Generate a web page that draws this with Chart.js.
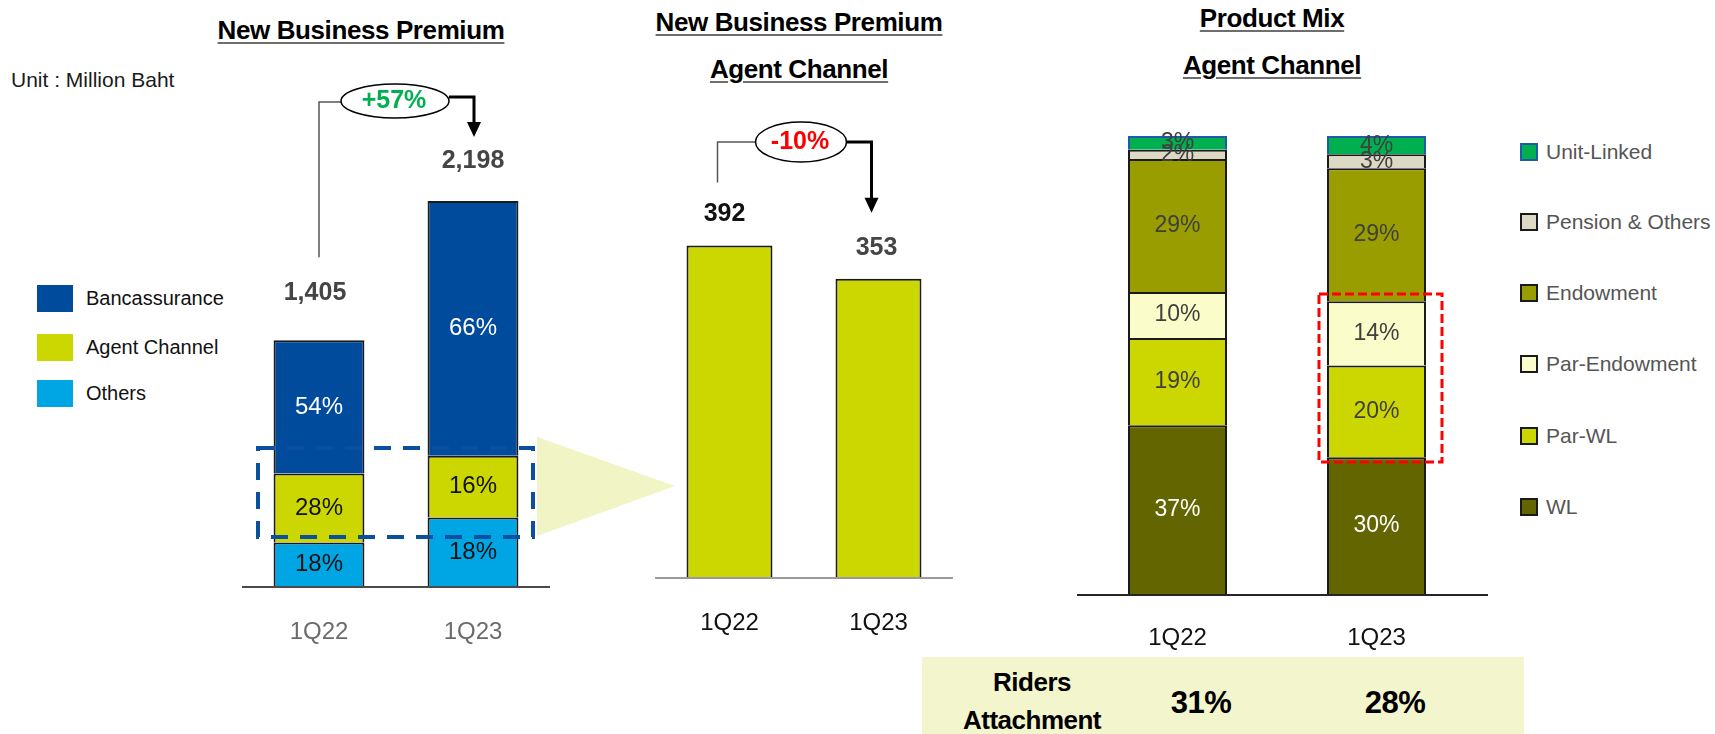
<!DOCTYPE html>
<html lang="en">
<head>
<meta charset="utf-8">
<title>New Business Premium and Product Mix</title>
<script src="https://cdn.jsdelivr.net/npm/chart.js@4.4.1/dist/chart.umd.min.js"></script>
<style>
  html, body { margin: 0; padding: 0; background: #ffffff; }
  body { position: relative; width: 1715px; height: 734px; overflow: hidden;
         font-family: "Liberation Sans", Arial, Helvetica, sans-serif; }
  .ct { position: absolute; transform: translate(-50%, -50%); white-space: nowrap; line-height: 1; }
  .title { font-weight: bold; font-size: 26px; letter-spacing: -0.4px; color: #000;
           text-decoration: underline; text-decoration-color: #6e6e6e;
           text-decoration-thickness: 2px; text-underline-offset: 3px; }
  .unit { position: absolute; left: 11px; top: 69px; font-size: 21px; line-height: 22px;
          color: #1a1a1a; white-space: nowrap; }
  .chart { position: absolute; }
  .chart canvas { display: block; }
  .legL { position: absolute; left: 37px; display: flex; align-items: center; white-space: nowrap;
          font-size: 20px; line-height: 27px; color: #111; }
  .legL .sw { width: 36px; height: 27px; margin-right: 13px; }
  .legR { position: absolute; left: 1520px; display: flex; align-items: center; white-space: nowrap;
          font-size: 21px; line-height: 18px; color: #555; }
  .legR .sw { width: 18px; height: 18px; box-sizing: border-box; border: 2px solid #1a1a1a; margin-right: 8px; }
  .riders { position: absolute; left: 922px; top: 657px; width: 602px; height: 77px; background: #f3f6cd; }
  .rtxt { font-weight: bold; color: #000; letter-spacing: -0.5px; }
  svg.overlay { position: absolute; left: 0; top: 0; pointer-events: none; }
</style>
</head>
<body>
<div class="ct title" style="left:361px; top:30px;">New Business Premium</div>
<div class="ct title" style="left:799px; top:22px;">New Business Premium</div>
<div class="ct title" style="left:799px; top:69px;">Agent Channel</div>
<div class="ct title" style="left:1272px; top:18px;">Product Mix</div>
<div class="ct title" style="left:1272px; top:65px;">Agent Channel</div>
<div class="unit">Unit : Million Baht</div>

<div id="legendLeft"></div>
<div id="legendRight"></div>

<div class="chart" id="wrapNbp"><canvas id="nbpChart"></canvas></div>
<div class="chart" id="wrapAgent"><canvas id="agentChart"></canvas></div>
<div class="chart" id="wrapMix"><canvas id="mixChart"></canvas></div>

<div class="riders" id="riders"></div>

<svg class="overlay" width="1715" height="734" viewBox="0 0 1715 734">
  <polygon points="537,437 675,486 537,536" fill="#f1f4c5"/>
  <rect x="258" y="448" width="275" height="89" fill="none" stroke="#0b4f9f" stroke-width="4" stroke-dasharray="17 12"/>
  <rect x="1319" y="294" width="123" height="168" fill="none" stroke="#ff0000" stroke-width="3" stroke-dasharray="9 4"/>
</svg>

<script>
// ---- data ----
const quarters = ['1Q22', '1Q23'];

// New business premium, all channels (million baht)
const nbpTotal = [1405, 2198];
const nbpGrowth = '+57%';

// Channel split of new business premium (%)
const channelNames = ['Bancassurance', 'Agent Channel', 'Others'];
const bancShare = [54, 66];
const agentShare = [28, 16];
const othersShare = [18, 18];

// Agent channel new business premium (million baht)
const agentPremium = [392, 353];
const agentGrowth = '-10%';

// Agent channel product mix (%)
const mixNames = ['Unit-Linked', 'Pension & Others', 'Endowment', 'Par-Endowment', 'Par-WL', 'WL'];
const mixUnitLinked = [3, 4];
const mixPension = [2, 3];
const mixEndowment = [29, 29];
const mixParEndowment = [10, 14];
const mixParWL = [19, 20];
const mixWL = [37, 30];

// Riders attachment (%)
const ridersLabel = ['Riders', 'Attachment'];
const ridersAttachment = [31, 28];

// ---- styles ----
const FONT = '"Liberation Sans", Arial, Helvetica, sans-serif';
const channelStyle = {
  'Bancassurance': { fill: '#004b9b', text: '#ffffff' },
  'Agent Channel': { fill: '#ccd600', text: '#111111' },
  'Others':        { fill: '#00a5e3', text: '#111111' }
};
const mixStyle = {
  'Unit-Linked':      { fill: '#00b050', border: '#1f5ba8', text: '#404040' },
  'Pension & Others': { fill: '#ddd9c4', border: '#1a1a1a', text: '#404040' },
  'Endowment':        { fill: '#9a9d00', border: '#1a1a1a', text: '#404040' },
  'Par-Endowment':    { fill: '#fafcc9', border: '#1a1a1a', text: '#404040' },
  'Par-WL':           { fill: '#ccd600', border: '#1a1a1a', text: '#404040' },
  'WL':               { fill: '#636600', border: '#1a1a1a', text: '#ffffff' }
};

// ---- legends and riders box ----
const legLeftTop = [285, 334, 380];
channelNames.forEach((name, i) => {
  const row = document.createElement('div');
  row.className = 'legL';
  row.style.top = legLeftTop[i] + 'px';
  const sw = document.createElement('span');
  sw.className = 'sw';
  sw.style.background = channelStyle[name].fill;
  const t = document.createElement('span');
  t.textContent = name;
  row.appendChild(sw); row.appendChild(t);
  document.getElementById('legendLeft').appendChild(row);
});

const legRightCenter = [152, 222, 293, 364, 436, 507];
mixNames.forEach((name, i) => {
  const row = document.createElement('div');
  row.className = 'legR';
  row.style.top = (legRightCenter[i] - 9) + 'px';
  const sw = document.createElement('span');
  sw.className = 'sw';
  sw.style.background = mixStyle[name].fill;
  sw.style.borderColor = mixStyle[name].border;
  const t = document.createElement('span');
  t.textContent = name;
  row.appendChild(sw); row.appendChild(t);
  document.getElementById('legendRight').appendChild(row);
});

(function buildRiders() {
  const box = document.getElementById('riders');
  const add = (text, x, y, size) => {
    const d = document.createElement('div');
    d.className = 'ct rtxt';
    d.textContent = text;
    d.style.left = x + 'px';
    d.style.top = y + 'px';
    d.style.fontSize = size + 'px';
    box.appendChild(d);
  };
  add(ridersLabel[0], 110, 25, 26);
  add(ridersLabel[1], 110, 63, 26);
  const valueX = [279, 473];
  ridersAttachment.forEach((v, i) => add(v + '%', valueX[i], 45, 31));
})();

// ---- drawing helpers ----
function drawText(ctx, text, x, y, font, color) {
  ctx.font = font;
  ctx.fillStyle = color;
  ctx.textAlign = 'center';
  ctx.textBaseline = 'middle';
  ctx.fillText(text, x, y);
}
function hLine(ctx, x0, x1, y, color, w) {
  ctx.strokeStyle = color;
  ctx.lineWidth = w;
  ctx.beginPath();
  ctx.moveTo(x0, y);
  ctx.lineTo(x1, y);
  ctx.stroke();
}
// Bracket from the first bar to the second one with a growth bubble and arrow
function drawGrowth(ctx, g) {
  ctx.save();
  ctx.lineJoin = 'miter';
  ctx.strokeStyle = '#555555';
  ctx.lineWidth = 1.5;
  ctx.beginPath();
  ctx.moveTo(g.x1, g.yStart);
  ctx.lineTo(g.x1, g.yLeft);
  ctx.lineTo(g.cx - g.rx, g.yLeft);
  ctx.stroke();

  ctx.strokeStyle = '#000000';
  ctx.lineWidth = 3;
  ctx.beginPath();
  ctx.moveTo(g.cx + g.rx, g.yRight);
  ctx.lineTo(g.x2, g.yRight);
  ctx.lineTo(g.x2, g.yTip - 13);
  ctx.stroke();
  ctx.fillStyle = '#000000';
  ctx.beginPath();
  ctx.moveTo(g.x2 - 7, g.yTip - 15);
  ctx.lineTo(g.x2 + 7, g.yTip - 15);
  ctx.lineTo(g.x2, g.yTip);
  ctx.closePath();
  ctx.fill();

  ctx.beginPath();
  ctx.ellipse(g.cx, g.cy, g.rx, g.ry, 0, 0, Math.PI * 2);
  ctx.fillStyle = '#ffffff';
  ctx.fill();
  ctx.strokeStyle = '#000000';
  ctx.lineWidth = 1.5;
  ctx.stroke();
  drawText(ctx, g.text, g.cx - 1, g.cy, 'bold 25px ' + FONT, g.color);
  ctx.restore();
}

function placeCanvas(wrapId, canvasId, area, pad) {
  const W = area.w + pad.l + pad.r, H = area.h + pad.t + pad.b;
  const wrap = document.getElementById(wrapId);
  wrap.style.left = (area.x - pad.l) + 'px';
  wrap.style.top = (area.y - pad.t) + 'px';
  const cv = document.getElementById(canvasId);
  cv.width = W; cv.height = H;
  cv.style.width = W + 'px'; cv.style.height = H + 'px';
  return cv;
}
function chartOptions(pad, yMax) {
  return {
    responsive: false,
    maintainAspectRatio: false,
    animation: false,
    devicePixelRatio: 1,
    events: [],
    layout: { padding: { top: pad.t, right: pad.r, bottom: pad.b, left: pad.l } },
    plugins: { legend: { display: false }, tooltip: { enabled: false }, title: { display: false } },
    scales: {
      x: { display: false, stacked: true },
      y: { display: false, stacked: true, min: 0, max: yMax }
    }
  };
}

// ---- chart 1: new business premium by channel ----
const nbpArea = { x: 242, y: 148, w: 308, h: 439 };
const nbpPad = { t: 100, b: 70, l: 10, r: 10 };
const totalLabelGap = [47, 40];
const shareOfTotal = share => share.map((s, i) => nbpTotal[i] * s / 100);
const nbpSeries = [
  { name: 'Others', share: othersShare },
  { name: 'Agent Channel', share: agentShare },
  { name: 'Bancassurance', share: bancShare }
];

const nbpDecor = {
  id: 'nbpDecor',
  afterDatasetsDraw(chart) {
    const { ctx, chartArea: a, scales: { x, y } } = chart;
    ctx.save();
    hLine(ctx, a.left, a.right, a.bottom, '#4a4a4a', 2);
    chart.data.datasets.forEach((ds, i) => {
      chart.getDatasetMeta(i).data.forEach((bar, j) => {
        drawText(ctx, ds.shares[j] + '%', bar.x, (bar.y + bar.base) / 2, '24px ' + FONT, ds.labelColor);
      });
    });
    const cx = quarters.map((q, j) => x.getPixelForValue(j));
    const totalY = nbpTotal.map((v, j) => y.getPixelForValue(v) - totalLabelGap[j]);
    quarters.forEach((q, j) => {
      drawText(ctx, q, cx[j], a.bottom + 45, '24px ' + FONT, '#6b6b6b');
      drawText(ctx, nbpTotal[j].toLocaleString('en-US'), cx[j] - (j === 0 ? 4 : 0), totalY[j], 'bold 25px ' + FONT, '#454545');
    });
    drawGrowth(ctx, {
      x1: cx[0], yStart: totalY[0] - 36, yLeft: a.top - 46,
      x2: cx[1] + 1, yRight: a.top - 51, yTip: totalY[1] - 24,
      cx: (cx[0] + cx[1]) / 2 - 1, cy: a.top - 47, rx: 54, ry: 17,
      text: nbpGrowth, color: '#00b050'
    });
    ctx.restore();
  }
};

new Chart(placeCanvas('wrapNbp', 'nbpChart', nbpArea, nbpPad), {
  type: 'bar',
  data: {
    labels: quarters,
    datasets: nbpSeries.map(s => ({
      label: s.name,
      data: shareOfTotal(s.share),
      shares: s.share,
      labelColor: channelStyle[s.name].text,
      backgroundColor: channelStyle[s.name].fill,
      borderColor: '#1a1a1a',
      borderWidth: 2,
      categoryPercentage: 1,
      barPercentage: 0.59
    }))
  },
  options: chartOptions(nbpPad, 2500),
  plugins: [nbpDecor]
});

// ---- chart 2: agent channel new business premium ----
const agentArea = { x: 655, y: 154, w: 298, h: 424 };
const agentPad = { t: 120, b: 70, l: 10, r: 10 };
const agentValueColor = ['#111111', '#454545'];

const agentDecor = {
  id: 'agentDecor',
  afterDatasetsDraw(chart) {
    const { ctx, chartArea: a, scales: { x, y } } = chart;
    ctx.save();
    hLine(ctx, a.left, a.right, a.bottom, '#9a9a9a', 2);
    const cx = quarters.map((q, j) => x.getPixelForValue(j));
    const valY = agentPremium.map(v => y.getPixelForValue(v) - 31);
    quarters.forEach((q, j) => {
      drawText(ctx, q, cx[j], a.bottom + 45, '24px ' + FONT, '#111111');
      drawText(ctx, String(agentPremium[j]), cx[j] - (j === 0 ? 5 : 2), valY[j], 'bold 25px ' + FONT, agentValueColor[j]);
    });
    drawGrowth(ctx, {
      x1: cx[0] - 12, yStart: valY[0] - 32, yLeft: a.top - 12,
      x2: cx[1] - 7, yRight: a.top - 12, yTip: valY[1] - 35,
      cx: (cx[0] + cx[1]) / 2 - 3, cy: a.top - 12, rx: 45.5, ry: 20,
      text: agentGrowth, color: '#ff0000'
    });
    ctx.restore();
  }
};

new Chart(placeCanvas('wrapAgent', 'agentChart', agentArea, agentPad), {
  type: 'bar',
  data: {
    labels: quarters,
    datasets: [{
      label: 'Agent Channel',
      data: agentPremium,
      backgroundColor: channelStyle['Agent Channel'].fill,
      borderColor: '#1a1a1a',
      borderWidth: 2,
      categoryPercentage: 1,
      barPercentage: 0.577
    }]
  },
  options: chartOptions(agentPad, 500),
  plugins: [agentDecor]
});

// ---- chart 3: agent channel product mix ----
const mixArea = { x: 1078, y: 136, w: 398, h: 459 };
const mixPad = { t: 10, b: 65, l: 10, r: 16 };
const mixSeries = [
  { name: 'WL', values: mixWL },
  { name: 'Par-WL', values: mixParWL },
  { name: 'Par-Endowment', values: mixParEndowment },
  { name: 'Endowment', values: mixEndowment },
  { name: 'Pension & Others', values: mixPension },
  { name: 'Unit-Linked', values: mixUnitLinked }
];

const mixDecor = {
  id: 'mixDecor',
  afterDatasetsDraw(chart) {
    const { ctx, chartArea: a, scales: { x } } = chart;
    ctx.save();
    hLine(ctx, a.left - 1, a.right + 12, a.bottom, '#262626', 2);
    chart.data.datasets.forEach((ds, i) => {
      chart.getDatasetMeta(i).data.forEach((bar, j) => {
        drawText(ctx, ds.data[j] + '%', bar.x, (bar.y + bar.base) / 2, '23px ' + FONT, ds.labelColor);
      });
    });
    quarters.forEach((q, j) => {
      drawText(ctx, q, x.getPixelForValue(j), a.bottom + 43, '24px ' + FONT, '#111111');
    });
    ctx.restore();
  }
};

new Chart(placeCanvas('wrapMix', 'mixChart', mixArea, mixPad), {
  type: 'bar',
  data: {
    labels: quarters,
    datasets: mixSeries.map(s => ({
      label: s.name,
      data: s.values,
      labelColor: mixStyle[s.name].text,
      backgroundColor: mixStyle[s.name].fill,
      borderColor: mixStyle[s.name].border,
      borderWidth: 2,
      categoryPercentage: 1,
      barPercentage: 0.4975
    }))
  },
  options: chartOptions(mixPad, 100),
  plugins: [mixDecor]
});
</script>
</body>
</html>
